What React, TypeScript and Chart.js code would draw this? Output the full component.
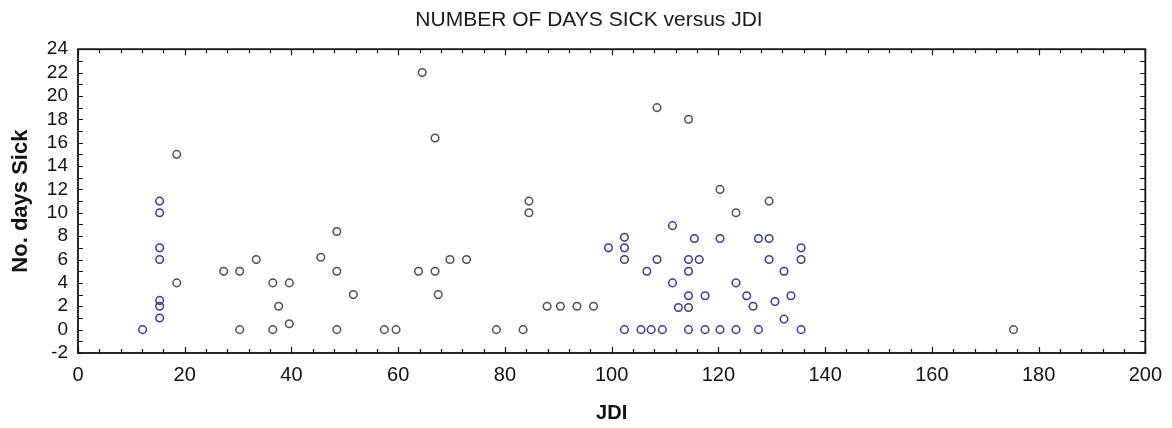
import React, { useEffect, useRef } from "react";
import { Chart, registerables } from "chart.js";

Chart.register(...registerables);

const TITLE = "NUMBER OF DAYS SICK versus JDI";
const X_TITLE = "JDI";
const Y_TITLE = "No. days Sick";

const X_MIN = 0;
const X_MAX = 200;
const X_STEP = 20;
const X_MINOR = 4;
const Y_MIN = -2;
const Y_MAX = 24;
const Y_STEP = 2;
const Y_MINOR = 1;

// Grey (dark) points
const grayJdi = [
  18.5, 18.5, 27.3, 30.3, 30.3, 33.4, 36.5, 39.6, 37.6, 36.5, 39.6, 45.5, 48.5,
  48.5, 48.5, 51.6, 57.4, 59.6, 64.5, 66.9, 63.8, 66.9, 69.7, 72.8, 67.5, 78.4,
  83.4, 84.5, 84.5, 87.9, 90.4, 93.5, 96.6, 108.5, 114.4, 120.3, 123.3, 129.5,
  175.3,
];
const grayDays = [
  15, 4, 5, 5, 0, 6, 4, 4, 2, 0, 0.5, 6.2, 8.4, 5, 0, 3, 0, 0, 22, 16.4, 5, 5, 6,
  6, 3, 0, 0, 11, 10, 2, 2, 2, 2, 19, 18, 12, 10, 11, 0,
];

// Blue points
const blueJdi = [
  12.1, 15.3, 15.3, 15.3, 15.3, 15.3, 15.3, 15.3, 99.4, 102.4, 102.4, 102.4,
  102.4, 105.5, 106.6, 107.4, 108.5, 109.5, 111.4, 111.4, 112.5, 114.4, 114.4,
  114.4, 114.4, 114.4, 115.5, 116.4, 117.5, 117.5, 120.3, 120.3, 123.3, 123.3,
  125.3, 126.5, 127.5, 127.5, 129.5, 129.5, 130.6, 132.3, 132.3, 133.6, 135.5,
  135.5, 135.5,
];
const blueDays = [
  0, 11, 10, 7, 6, 2.5, 2, 1, 7, 7.9, 7, 6, 0, 0, 5, 0, 6, 0, 8.9, 4, 1.9, 6, 5,
  2.9, 1.9, 0, 7.8, 6, 2.9, 0, 7.8, 0, 4, 0, 2.9, 2, 7.8, 0, 7.8, 6, 2.4, 5, 0.9,
  2.9, 7, 6, 0,
];

const GRAY = "#505050";
const BLUE = "#3a3a9c";
const FONT = "'Liberation Sans', Arial, sans-serif";

const toPoints = (xs: number[], ys: number[]) =>
  xs.map((x, i) => ({ x, y: ys[i] }));

const frameTicks = {
  id: "frameTicks",
  afterDatasetsDraw(chart: any) {
    const { ctx, chartArea: a, scales } = chart;
    const xs = scales.x;
    const ys = scales.y;
    ctx.save();
    ctx.strokeStyle = "#111";
    ctx.lineWidth = 1.2;
    ctx.beginPath();
    for (let v = X_MIN; v <= X_MAX; v += X_MINOR) {
      const px = Math.round(xs.getPixelForValue(v)) + 0.5;
      const len = v % X_STEP === 0 ? 6 : 4;
      ctx.moveTo(px, a.bottom);
      ctx.lineTo(px, a.bottom - len);
      ctx.moveTo(px, a.top);
      ctx.lineTo(px, a.top + len);
    }
    for (let v = Y_MIN; v <= Y_MAX; v += Y_MINOR) {
      const py = Math.round(ys.getPixelForValue(v)) + 0.5;
      const len = 5;
      ctx.moveTo(a.left, py);
      ctx.lineTo(a.left + len, py);
      ctx.moveTo(a.right, py);
      ctx.lineTo(a.right - len, py);
    }
    ctx.stroke();
    ctx.lineWidth = 1.8;
    ctx.strokeRect(a.left, a.top, a.right - a.left, a.bottom - a.top);
    ctx.restore();
  },
};

const PAD_LEFT = 30;

export default function App() {
  const canvasRef = useRef<HTMLCanvasElement | null>(null);

  useEffect(() => {
    const canvas = canvasRef.current;
    if (!canvas) return;
    const chart = new Chart(canvas, {
      type: "scatter",
      data: {
        datasets: [
          {
            label: "gray",
            data: toPoints(grayJdi, grayDays),
            borderColor: GRAY,
            backgroundColor: "rgba(0,0,0,0)",
            pointRadius: 3.8,
            pointBorderWidth: 1.5,
            pointStyle: "circle",
          },
          {
            label: "blue",
            data: toPoints(blueJdi, blueDays),
            borderColor: BLUE,
            backgroundColor: "rgba(0,0,0,0)",
            pointRadius: 3.8,
            pointBorderWidth: 1.5,
            pointStyle: "circle",
          },
        ],
      },
      options: {
        responsive: false,
        animation: false,
        layout: { padding: { left: PAD_LEFT, right: 24, top: 0, bottom: 0 } },
        plugins: {
          legend: { display: false },
          tooltip: { enabled: false },
          title: {
            display: true,
            text: TITLE,
            color: "#1a1a1a",
            font: { family: FONT, size: 21, weight: "normal" },
            padding: { top: 8, bottom: 16 },
          },
        },
        scales: {
          x: {
            type: "linear",
            min: X_MIN,
            max: X_MAX,
            afterFit: (scale: any) => {
              scale.height = 75;
            },
            ticks: {
              stepSize: X_STEP,
              color: "#111",
              font: { family: FONT, size: 20 },
              padding: 10,
              maxRotation: 0,
              autoSkip: false,
            },
            grid: { display: false, drawTicks: false },
            border: { display: false },
            title: {
              display: true,
              text: X_TITLE,
              color: "#111",
              font: { family: FONT, size: 20, weight: "bold" },
              padding: { top: 0, bottom: 3 },
            },
          },
          y: {
            type: "linear",
            min: Y_MIN,
            max: Y_MAX,
            afterFit: (scale: any) => {
              scale.width = 78 - PAD_LEFT;
            },
            ticks: {
              stepSize: Y_STEP,
              color: "#111",
              font: { family: FONT, size: 19 },
              padding: 10,
              autoSkip: false,
            },
            grid: { display: false, drawTicks: false },
            border: { display: false },
            title: {
              display: true,
              text: Y_TITLE,
              color: "#111",
              font: { family: FONT, size: 22, weight: "bold" },
              padding: { top: 8 - PAD_LEFT, bottom: 0 },
            },
          },
        },
      },
      plugins: [frameTicks],
    });
    return () => chart.destroy();
  }, []);

  return (
    <div
      style={{
        position: "absolute",
        left: 0,
        top: 0,
        width: 1172,
        height: 428,
        background: "#fff",
      }}
    >
      <canvas ref={canvasRef} width={1172} height={428} />
    </div>
  );
}
